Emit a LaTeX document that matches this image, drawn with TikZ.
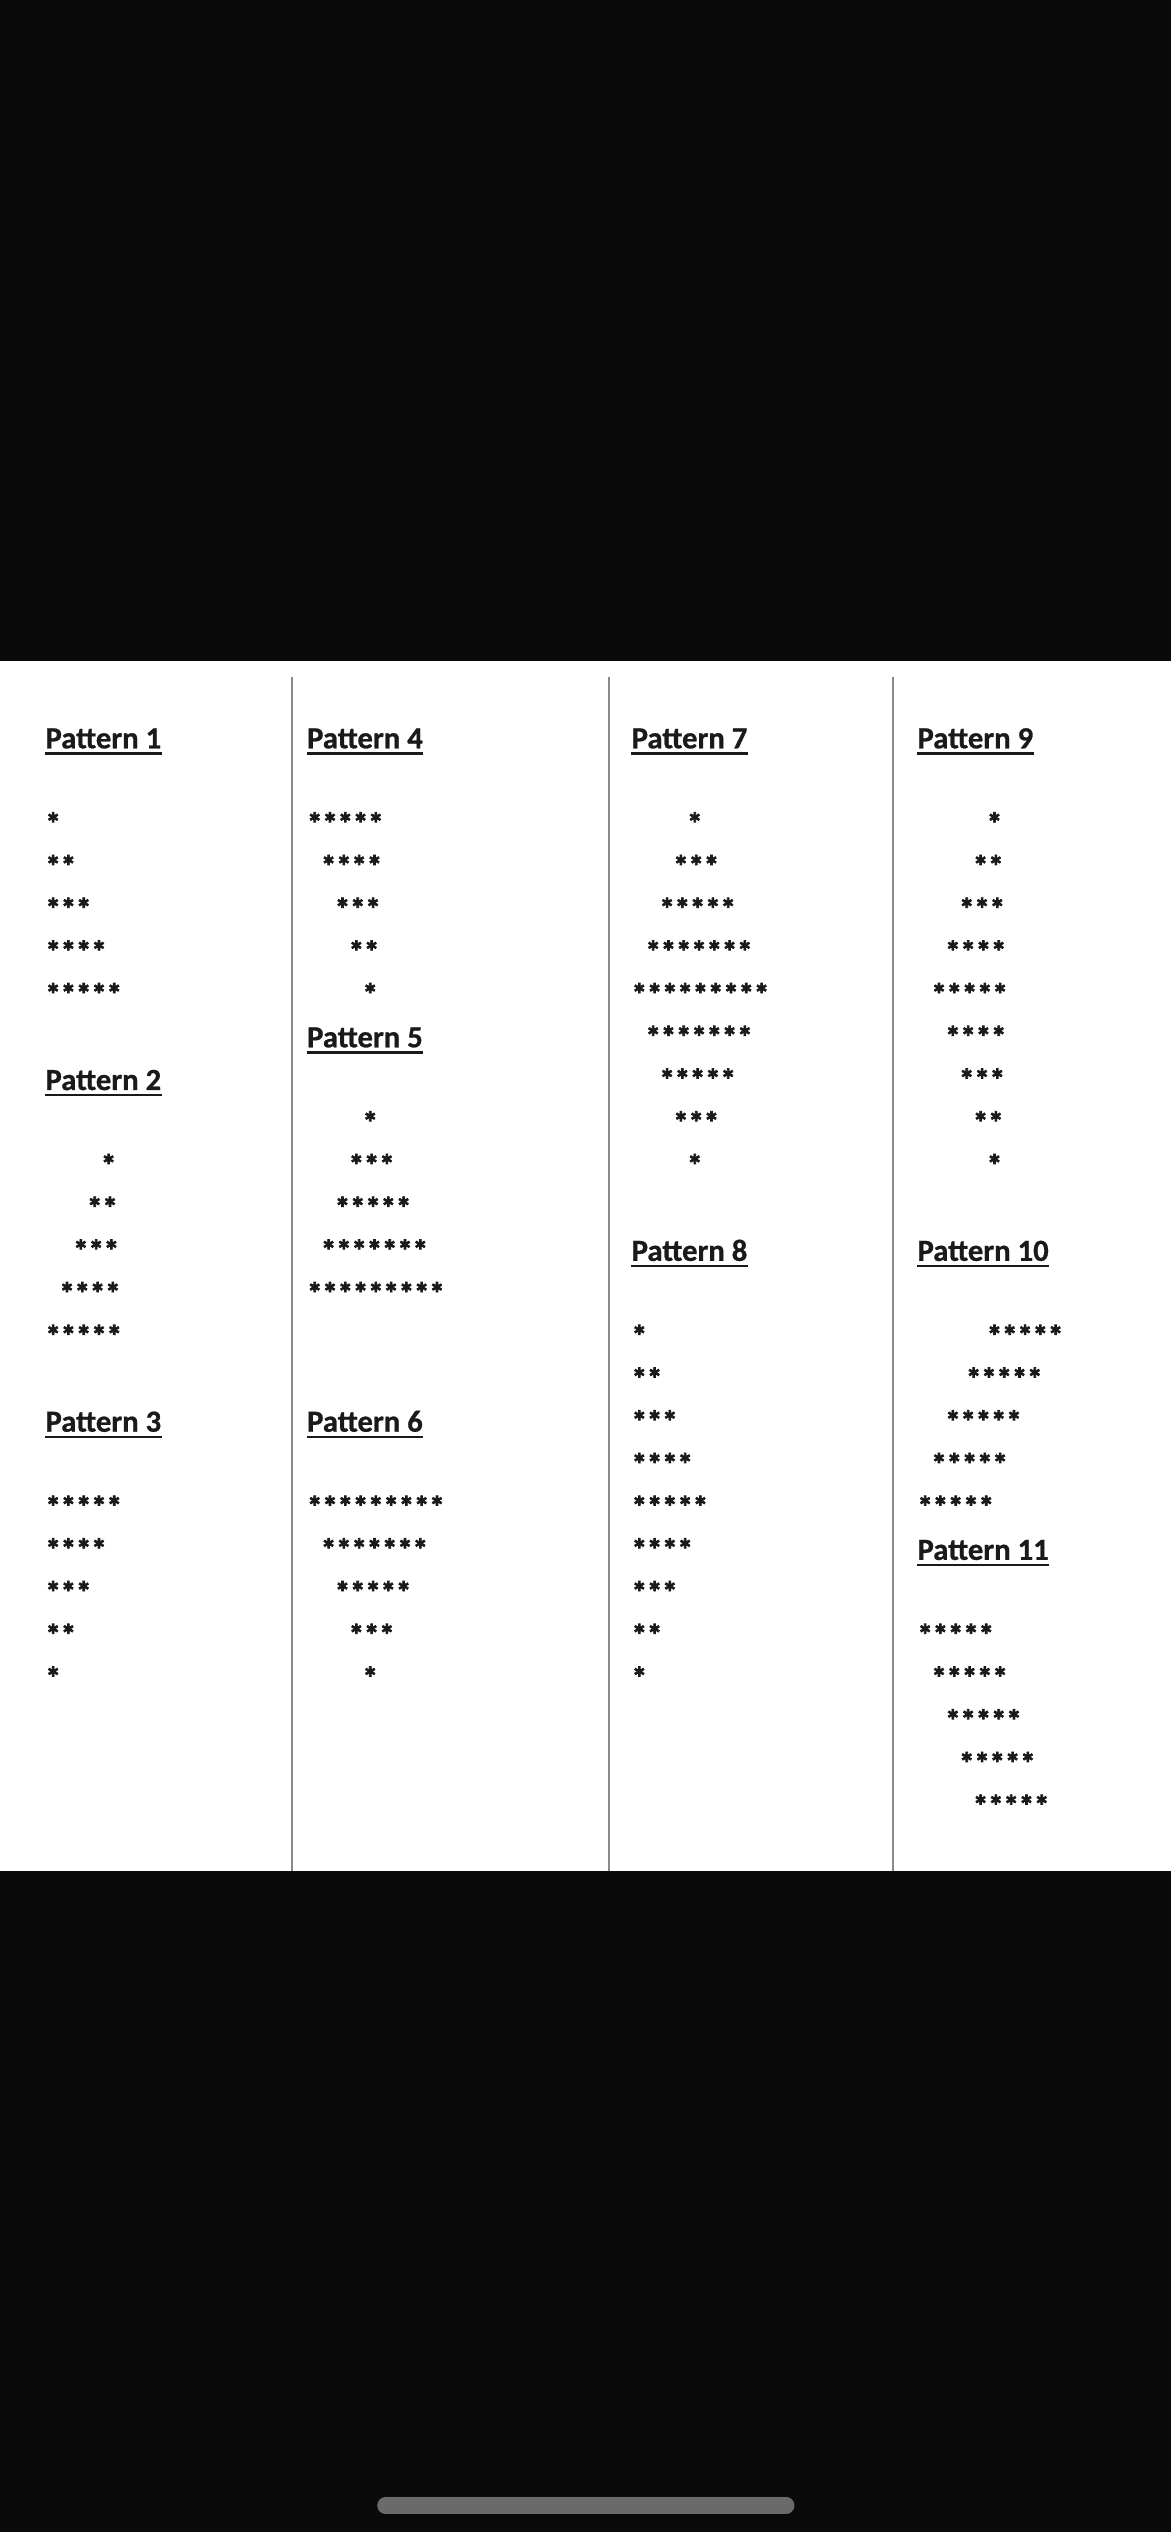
\documentclass[tikz,border=0pt]{standalone}
\usepackage{fontspec}
\setmainfont{Carlito}
\newfontfamily\starfont[BoldFeatures={FakeBold=2.5}]{Carlito}
\newfontfamily\headfont[BoldFeatures={FakeBold=0.8}]{Carlito}
\definecolor{bg}{HTML}{0A0A0A}
\definecolor{ink}{HTML}{1A1A1A}
\definecolor{rulegray}{HTML}{8A8A8A}
\definecolor{bargray}{HTML}{6A6A6A}
\newcommand\starstr[1]{\ifcase#1\or *\or **\or ***\or ****\or *****\or ******\or *******\or ********\or *********\fi}
\newcommand\starrows[4]{%
  \foreach [count=\ri from 0] \o/\nn in {#4} {
    \node[stars] (#1r\ri) at ({#2+\o*4.294}, {507.5+(#3+\ri)*26.45+9.1}) {\starstr{\nn}};
  }}
\newcommand\patheading[4]{%
  \node[heading] (#1) at (#2, {507.5+(#3)*26.45+8.8}) {#4};
  \draw[ul] ([yshift=-3.2pt]#1.base west) -- ([yshift=-3.2pt]#1.base east);}
\begin{document}
\begin{tikzpicture}[x=1pt,y=-1pt,
  heading/.style={anchor=base west, inner sep=0pt, font=\fontsize{19}{23}\headfont\bfseries, text=ink},
  stars/.style={anchor=base west, inner sep=0pt, font=\fontsize{19}{23}\starfont\bfseries, text=ink},
  divider/.style={draw=rulegray, line width=1.4pt},
  ul/.style={draw=ink, line width=1.6pt},
  homebar/.style={draw=bargray, line width=10pt, line cap=round}]
\useasboundingbox (0,0) rectangle (725,1568);
\fill[bg] (0,0) rectangle (725,1568);
\fill[white] (0,409.5) rectangle (725,1158.7);
% dividers
\coordinate (d1t) at (181,419.5); \coordinate (d1b) at (181,1158.7);
\coordinate (d2t) at (377,419.5); \coordinate (d2b) at (377,1158.7);
\coordinate (d3t) at (553,419.5); \coordinate (d3b) at (553,1158.7);
\draw[divider] (d1t) -- (d1b);
\draw[divider] (d2t) -- (d2b);
\draw[divider] (d3t) -- (d3b);
% home indicator
\coordinate (hb1) at (238.6,1551.6); \coordinate (hb2) at (487,1551.6);
\draw[homebar] (hb1) -- (hb2);
% column 1
\patheading{h1}{28}{-2}{Pattern 1}
\starrows{p1}{28}{0}{0/1,0/2,0/3,0/4,0/5}
\patheading{h2}{28}{6}{Pattern 2}
\starrows{p2}{28}{8}{8/1,6/2,4/3,2/4,0/5}
\patheading{h3}{28}{14}{Pattern 3}
\starrows{p3}{28}{16}{0/5,0/4,0/3,0/2,0/1}
% column 2
\patheading{h4}{190}{-2}{Pattern 4}
\starrows{p4}{190}{0}{0/5,2/4,4/3,6/2,8/1}
\patheading{h5}{190}{5}{Pattern 5}
\starrows{p5}{190}{7}{8/1,6/3,4/5,2/7,0/9}
\patheading{h6}{190}{14}{Pattern 6}
\starrows{p6}{190}{16}{0/9,2/7,4/5,6/3,8/1}
% column 3
\patheading{h7}{391}{-2}{Pattern 7}
\starrows{p7}{391}{0}{8/1,6/3,4/5,2/7,0/9,2/7,4/5,6/3,8/1}
\patheading{h8}{391}{10}{Pattern 8}
\starrows{p8}{391}{12}{0/1,0/2,0/3,0/4,0/5,0/4,0/3,0/2,0/1}
% column 4
\patheading{h9}{568}{-2}{Pattern 9}
\starrows{p9}{568}{0}{10/1,8/2,6/3,4/4,2/5,4/4,6/3,8/2,10/1}
\patheading{h10}{568}{10}{Pattern 10}
\starrows{p10}{568}{12}{10/5,7/5,4/5,2/5,0/5}
\patheading{h11}{568}{17}{Pattern 11}
\starrows{p11}{568}{19}{0/5,2/5,4/5,6/5,8/5}
\end{tikzpicture}
\end{document}
